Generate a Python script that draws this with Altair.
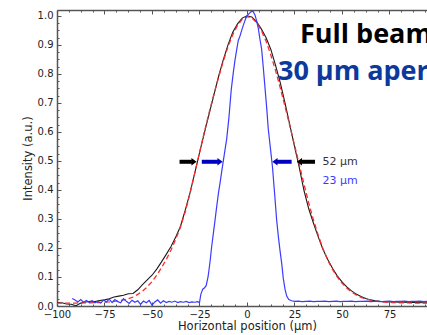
import altair as alt
import pandas as pd

# ---------------- data ----------------
# Full beam profile (black)
black_x = [-100, -97.5, -95, -92.5, -90, -87.5, -85, -82.5, -80, -77.5,
           -75, -72.5, -70, -67.5, -65, -62.5, -60, -57.5, -55, -52.5,
           -50, -47.5, -45, -42.5, -40, -37.5, -35, -32.5, -30, -27.5,
           -25, -22.5, -20, -17.5, -15, -12.5, -10, -7.5, -5, -2.5,
           0, 2.5, 5, 7.5, 10, 12.5, 15, 17.5, 20, 22.5,
           25, 27.5, 30, 32.5, 35, 37.5, 40, 42.5, 45, 47.5,
           50, 52.5, 55, 57.5, 60, 62.5, 65, 67.5, 70, 72.5,
           75, 77.5, 80, 82.5, 85, 87.5, 90, 92.5, 95, 97.5, 100]
black_y = [0.012, 0.011, 0.007, 0.006, 0.001, 0.010, 0.014, 0.016, 0.015, 0.019,
           0.021, 0.025, 0.031, 0.034, 0.037, 0.042, 0.043, 0.056, 0.074, 0.090,
           0.106, 0.127, 0.152, 0.178, 0.205, 0.238, 0.275, 0.330, 0.390, 0.458,
           0.528, 0.595, 0.660, 0.725, 0.790, 0.848, 0.900, 0.943, 0.972, 0.992,
           1.000, 0.996, 0.980, 0.955, 0.925, 0.885, 0.830, 0.770, 0.700, 0.625,
           0.550, 0.478, 0.398, 0.335, 0.285, 0.238, 0.195, 0.160, 0.130, 0.104,
           0.083, 0.066, 0.052, 0.041, 0.033, 0.026, 0.021, 0.018, 0.016, 0.015,
           0.014, 0.014, 0.013, 0.013, 0.012, 0.012, 0.012, 0.011, 0.011, 0.011, 0.010]

# Gaussian fit (red dashed)
red_x = black_x
red_y = [0.010, 0.010, 0.010, 0.010, 0.010, 0.011, 0.011, 0.011, 0.012, 0.012,
         0.013, 0.014, 0.016, 0.018, 0.021, 0.025, 0.031, 0.040, 0.051, 0.066,
         0.084, 0.106, 0.132, 0.160, 0.193, 0.230, 0.272, 0.325, 0.388, 0.458,
         0.528, 0.598, 0.665, 0.728, 0.787, 0.843, 0.893, 0.935, 0.967, 0.988,
         0.997, 0.993, 0.977, 0.950, 0.913, 0.866, 0.812, 0.752, 0.688, 0.622,
         0.555, 0.488, 0.420, 0.355, 0.296, 0.244, 0.197, 0.158, 0.126, 0.100,
         0.079, 0.062, 0.048, 0.038, 0.030, 0.024, 0.020, 0.017, 0.015, 0.013,
         0.012, 0.012, 0.011, 0.011, 0.011, 0.010, 0.010, 0.010, 0.010, 0.010, 0.010]

# 30 um aperture profile (blue)
blue_x = [-92, -90.5, -89, -87.5, -86, -84.5, -83, -81.5, -80, -78.5,
          -77, -75.5, -74, -72.5, -71, -69.5, -68, -66.5, -65, -63.5,
          -62, -60.5, -59, -57.5, -56, -54.5, -53, -51.5, -50, -48.5,
          -47, -45.5, -44, -42.5, -41, -39.5, -38, -36.5, -35, -33.5,
          -32, -30.5, -29, -27.5, -26, -25,
          -24.3, -23.3, -22.3, -21.5, -20.5, -19.5, -18.6, -17.7, -16.8, -15.9,
          -15.0, -14.1, -13.2, -12.0, -10.7, -9.5, -8.3, -7.2, -6.3, -5.4,
          -4.6, -3.7, -2.8, -1.9, -1.0, -0.2, 0.8, 1.6, 2.4, 3.2,
          4.2, 5.1, 6.0, 6.8, 7.7, 8.6, 9.5, 10.4, 11.2, 12.3,
          13.4, 14.5, 15.6, 16.5, 17.4, 18.3, 19.1, 20.0, 20.9, 22.0, 23.5,
          25, 27, 29, 31, 33, 35, 37, 39, 41, 43,
          45, 47, 49, 51, 53, 55, 57, 59, 61, 63,
          65, 67, 69, 71, 73, 75, 77, 79, 81, 83,
          85, 87, 89, 91, 93, 95, 97, 99]
blue_y = [0.026, 0.021, 0.014, 0.022, 0.013, 0.019, 0.012, 0.018, 0.011, 0.016,
          0.010, 0.020, 0.014, 0.024, 0.012, 0.022, 0.015, 0.011, 0.025, 0.016,
          0.009, 0.020, 0.013, 0.018, 0.006, 0.017, 0.011, 0.019, 0.003, 0.014,
          0.021, 0.010, 0.018, 0.012, 0.016, 0.013, 0.017, 0.012, 0.015, 0.013,
          0.016, 0.012, 0.014, 0.013, 0.015, 0.012,
          0.040, 0.058, 0.063, 0.070, 0.100, 0.150, 0.204, 0.250, 0.297, 0.345,
          0.390, 0.428, 0.468, 0.520, 0.575, 0.650, 0.745, 0.805, 0.848, 0.884,
          0.915, 0.930, 0.950, 0.968, 0.985, 0.998, 1.006, 1.011, 1.015, 1.015,
          1.003, 0.982, 0.955, 0.920, 0.885, 0.820, 0.750, 0.680, 0.610, 0.545,
          0.480, 0.390, 0.297, 0.240, 0.190, 0.145, 0.095, 0.058, 0.034, 0.022, 0.018,
          0.016, 0.017, 0.015, 0.016, 0.017, 0.015, 0.016, 0.016, 0.017, 0.015,
          0.016, 0.017, 0.015, 0.016, 0.016, 0.017, 0.015, 0.016, 0.016, 0.017,
          0.015, 0.016, 0.016, 0.015, 0.016, 0.017, 0.015, 0.016, 0.016, 0.017,
          0.015, 0.016, 0.016, 0.017, 0.015, 0.016, 0.016, 0.015]

# FWHM arrows
arrow_from = [-35.5, -23.8, 23.5, 35.8]
arrow_to = [-26.5, -12.8, 13.3, 26.2]
arrow_dir = ["right", "right", "left", "left"]
arrow_col = ["#000000", "#0000c0", "#0000c0", "#000000"]
arrow_level = 0.497

# small width labels
width_text = ["52 μm", "23 μm"]
width_text_x = [39.8, 39.8]
width_text_y = [0.497, 0.432]
width_text_col = ["#333333", "#3b3bff"]

# big annotation
big_text = ["Full beam", "30 μm aperture"]
big_text_x = [27.9, 16.3]
big_text_y = [0.906, 0.779]
big_text_col = ["#000000", "#0b3a9c"]

# ticks
x_major = [-100, -75, -50, -25, 0, 25, 50, 75]
x_minor = [-93.75, -87.5, -81.25, -68.75, -62.5, -56.25, -43.75, -37.5, -31.25,
           -18.75, -12.5, -6.25, 6.25, 12.5, 18.75, 31.25, 37.5, 43.75,
           56.25, 62.5, 68.75, 81.25, 87.5, 93.75]
y_major = [0.0, 0.1, 0.2, 0.3, 0.4, 0.5, 0.6, 0.7, 0.8, 0.9, 1.0]
y_minor = [0.025, 0.05, 0.075, 0.125, 0.15, 0.175, 0.225, 0.25, 0.275,
           0.325, 0.35, 0.375, 0.425, 0.45, 0.475, 0.525, 0.55, 0.575,
           0.625, 0.65, 0.675, 0.725, 0.75, 0.775, 0.825, 0.85, 0.875,
           0.925, 0.95, 0.975]

# ---------------- tables ----------------
black = pd.DataFrame({"x": black_x, "y": black_y})
red = pd.DataFrame({"x": red_x, "y": red_y})
blue = pd.DataFrame({"x": blue_x, "y": blue_y})
arrows = pd.DataFrame({"x": arrow_from, "xt": arrow_to, "dir": arrow_dir,
                       "col": arrow_col, "y": [arrow_level] * 4})
arrows["xs"] = [t - 2.5 if d == "right" else t + 2.5 for t, d in zip(arrows["xt"], arrows["dir"])]
wtext = pd.DataFrame({"x": width_text_x, "y": width_text_y, "t": width_text, "col": width_text_col})
btext = pd.DataFrame({"x": big_text_x, "y": big_text_y, "t": big_text, "col": big_text_col})

XS = alt.Scale(domain=[-100, 94.74], nice=False, zero=False)
YS = alt.Scale(domain=[0, 1.02], nice=False, zero=False)
FRAME = "#555555"
FONT = "DejaVu Sans"


def tick_axis(orient, values, size):
    return alt.Axis(orient=orient, values=values, tickSize=size, offset=-size,
                    labels=False, domain=False, grid=False, ticks=True,
                    tickColor=FRAME, tickWidth=1, title=None)


def frame_axis(orient):
    return alt.Axis(orient=orient, labels=False, ticks=False, domain=True,
                    domainColor=FRAME, domainWidth=1.5, grid=False, title=None)


x_main = alt.Axis(orient="bottom", values=x_major, format="d", ticks=False,
                  domain=True, domainColor=FRAME, domainWidth=1.5, grid=False,
                  labelFont=FONT, labelFontSize=10, labelColor="#222222",
                  labelPadding=3, labelFlush=False, labelOverlap=False,
                  title="Horizontal position (μm)", titleFont=FONT,
                  titleFontSize=11.5, titleFontWeight="normal", titleColor="#222222",
                  titlePadding=1, titleX=190)
y_main = alt.Axis(orient="left", values=y_major, format=".1f", ticks=False,
                  domain=True, domainColor=FRAME, domainWidth=1.5, grid=False,
                  labelFont=FONT, labelFontSize=10, labelColor="#222222",
                  labelPadding=4, labelFlush=False, labelOverlap=False,
                  title="Intensity (a.u.)", titleFont=FONT, titleFontSize=11.5,
                  titleFontWeight="normal", titleColor="#222222", titlePadding=4)

l_black = alt.Chart(black).mark_line(color="#1a1a1a", strokeWidth=1.1, clip=True).encode(
    x=alt.X("x:Q", scale=XS, axis=x_main),
    y=alt.Y("y:Q", scale=YS, axis=y_main),
)
l_red = alt.Chart(red).mark_line(color="#ff2a2a", strokeWidth=1.3, strokeDash=[5, 3], clip=True).encode(
    x=alt.X("x:Q", scale=XS, axis=tick_axis("bottom", x_major, 4)),
    y=alt.Y("y:Q", scale=YS, axis=tick_axis("left", y_major, 4)),
)
l_blue = alt.Chart(blue).mark_line(color="#3b3bff", strokeWidth=1.2, clip=True).encode(
    x=alt.X("x:Q", scale=XS, axis=tick_axis("bottom", x_minor, 2)),
    y=alt.Y("y:Q", scale=YS, axis=tick_axis("left", y_minor, 2)),
)
l_shaft = alt.Chart(arrows).mark_rule(strokeWidth=4).encode(
    x=alt.X("x:Q", scale=XS, axis=tick_axis("top", x_major, 4)),
    x2="xs:Q",
    y=alt.Y("y:Q", scale=YS, axis=None),
    color=alt.Color("col:N", scale=None),
)
PATH_R = "M0,0L-1.4,-1L-1.4,1Z"
PATH_L = "M0,0L1.4,-1L1.4,1Z"
l_head = alt.Chart(arrows).mark_point(filled=True, size=56, opacity=1).encode(
    x=alt.X("xt:Q", scale=XS, axis=tick_axis("top", x_minor, 2)),
    y=alt.Y("y:Q", scale=YS, axis=None),
    color=alt.Color("col:N", scale=None),
    shape=alt.Shape("dir:N", scale=alt.Scale(domain=["right", "left"], range=[PATH_R, PATH_L]), legend=None),
)
l_wtext = alt.Chart(wtext).mark_text(align="left", baseline="middle", font=FONT, fontSize=11).encode(
    x=alt.X("x:Q", scale=XS, axis=frame_axis("top")),
    y=alt.Y("y:Q", scale=YS, axis=None),
    text="t:N",
    color=alt.Color("col:N", scale=None),
)
l_btext = alt.Chart(btext).mark_text(align="left", baseline="alphabetic", font="Open Sans",
                                     fontSize=27, fontWeight="bold").encode(
    x=alt.X("x:Q", scale=XS, axis=None),
    y=alt.Y("y:Q", scale=YS, axis=None),
    text="t:N",
    color=alt.Color("col:N", scale=None),
)

chart = alt.layer(l_black, l_red, l_blue, l_shaft, l_head, l_wtext, l_btext).resolve_axis(
    x="independent", y="independent"
).properties(
    width=370, height=296,
    autosize=alt.AutoSizeParams(type="none"),
    padding={"left": 57, "top": 10, "right": 0, "bottom": 29},
    background="white",
).configure_view(stroke=None)

chart.save("out.html", embed_options={"renderer": "svg", "actions": False})
